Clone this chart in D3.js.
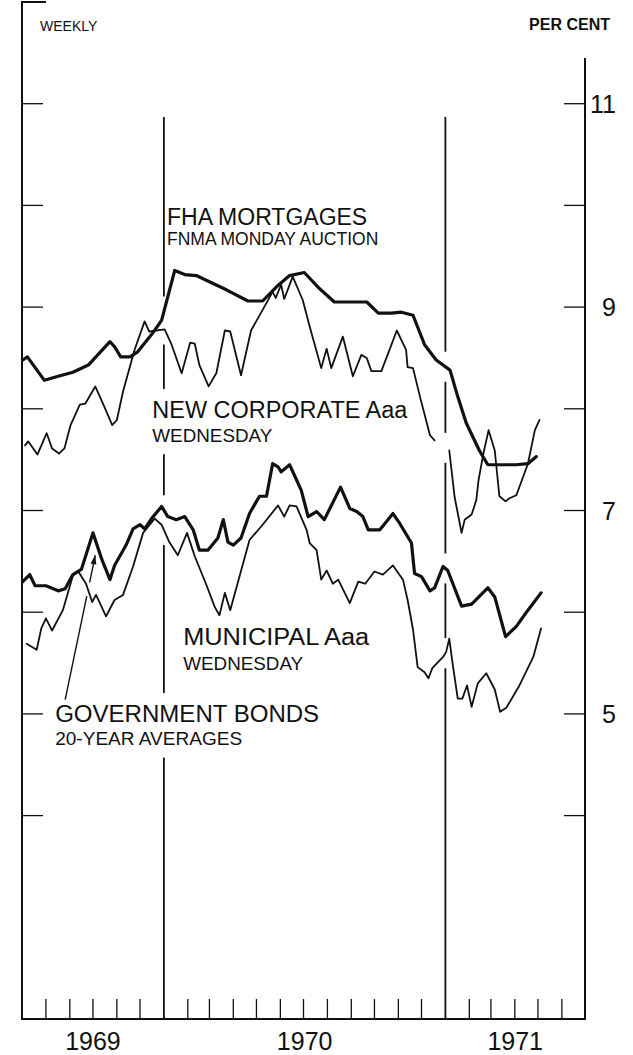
<!DOCTYPE html>
<html>
<head>
<meta charset="utf-8">
<script src="https://cdn.jsdelivr.net/npm/d3@7"></script>
<style>
  body { margin:0; background:#fff; }
  svg { display:block; }
  text { font-family:"Liberation Sans", Arial, sans-serif; fill:#111; }
</style>
</head>
<body>
<script>
// weekly yields, per cent
var fha = [["1969-07-02",8.48],["1969-07-08",8.51],["1969-07-30",8.28],["1969-08-17",8.32],["1969-09-05",8.36],
  ["1969-09-25",8.43],["1969-10-23",8.66],["1969-10-29",8.61],["1969-11-06",8.51],["1969-11-18",8.51],["1969-11-28",8.56],
  ["1969-12-16",8.73],["1969-12-29",8.87],["1970-01-06",9.10],["1970-01-15",9.36],["1970-01-28",9.32],["1970-02-12",9.31],
  ["1970-03-01",9.25],["1970-03-23",9.17],["1970-04-20",9.06],["1970-05-09",9.06],["1970-05-27",9.20],["1970-06-13",9.31],
  ["1970-07-02",9.34],["1970-07-22",9.18],["1970-08-10",9.05],["1970-09-21",9.05],["1970-10-06",8.94],["1970-10-23",8.94],
  ["1970-11-05",8.95],["1970-11-20",8.92],["1970-12-05",8.63],["1970-12-20",8.48],["1971-01-07",8.38],["1971-01-17",8.12],
  ["1971-01-28",7.86],["1971-02-14",7.59],["1971-02-25",7.45],["1971-03-13",7.45],["1971-04-03",7.45],["1971-04-18",7.46],
  ["1971-04-29",7.53]];

var corporate = [["1969-07-05",7.64],["1969-07-09",7.68],["1969-07-21",7.55],["1969-08-02",7.76],["1969-08-09",7.61],["1969-08-18",7.56],
  ["1969-08-25",7.61],["1969-09-02",7.84],["1969-09-14",8.04],["1969-09-21",8.05],["1969-10-04",8.22],["1969-10-14",8.05],
  ["1969-10-26",7.84],["1969-11-01",7.89],["1969-11-09",8.17],["1969-11-24",8.58],["1969-12-07",8.86],["1969-12-13",8.76],
  ["1969-12-22",8.77],["1970-01-02",8.78],["1970-01-11",8.63],["1970-01-24",8.35],["1970-02-04",8.65],["1970-02-10",8.64],
  ["1970-02-16",8.43],["1970-02-28",8.22],["1970-03-06",8.30],["1970-03-10",8.35],["1970-03-21",8.77],["1970-03-28",8.76],
  ["1970-04-11",8.33],["1970-04-24",8.77],["1970-05-11",9.00],["1970-05-22",9.15],["1970-05-26",9.09],["1970-06-02",9.22],
  ["1970-06-06",9.08],["1970-06-17",9.30],["1970-06-30",9.07],["1970-07-09",8.81],["1970-07-24",8.40],["1970-07-31",8.59],
  ["1970-08-06",8.40],["1970-08-21",8.71],["1970-09-03",8.32],["1970-09-14",8.53],["1970-09-21",8.50],["1970-09-27",8.37],
  ["1970-10-10",8.37],["1970-10-30",8.77],["1970-11-11",8.58],["1970-11-13",8.41],["1970-11-20",8.40],["1970-11-29",8.12],
  ["1970-12-12",7.74],["1970-12-18",7.69],["1970-12-27",null],["1971-01-06",7.59],["1971-01-13",7.13],["1971-01-22",6.78],
  ["1971-01-26",6.91],["1971-02-04",6.96],["1971-02-10",7.10],["1971-02-13",7.30],["1971-02-19",7.55],["1971-02-26",7.79],
  ["1971-03-06",7.59],["1971-03-12",7.14],["1971-03-20",7.09],["1971-03-25",7.12],["1971-04-03",7.15],["1971-04-18",7.46],
  ["1971-04-27",7.79],["1971-05-03",7.89]];

var government = [["1969-07-02",6.30],["1969-07-11",6.37],["1969-07-18",6.26],["1969-08-01",6.26],["1969-08-17",6.21],
  ["1969-08-26",6.23],["1969-09-05",6.37],["1969-09-16",6.42],["1969-10-01",6.78],["1969-10-12",6.53],["1969-10-23",6.32],
  ["1969-10-29",6.46],["1969-11-13",6.66],["1969-11-22",6.82],["1969-12-01",6.86],["1969-12-07",6.82],["1969-12-16",6.92],
  ["1969-12-29",7.04],["1970-01-06",6.94],["1970-01-17",6.91],["1970-01-28",6.94],["1970-02-08",6.81],["1970-02-16",6.61],
  ["1970-02-27",6.61],["1970-03-12",6.73],["1970-03-19",6.91],["1970-03-25",6.69],["1970-04-01",6.66],["1970-04-11",6.73],
  ["1970-04-22",6.97],["1970-05-01",7.09],["1970-05-05",7.14],["1970-05-14",7.14],["1970-05-22",7.46],["1970-05-29",7.43],
  ["1970-06-02",7.38],["1970-06-13",7.45],["1970-06-28",7.20],["1970-07-07",6.94],["1970-07-18",6.99],["1970-07-28",6.91],
  ["1970-08-18",7.23],["1970-08-30",7.02],["1970-09-08",6.99],["1970-09-16",6.94],["1970-09-23",6.81],["1970-10-08",6.81],
  ["1970-10-25",6.97],["1970-11-03",6.87],["1970-11-18",6.68],["1970-11-22",6.38],["1970-12-01",6.35],["1970-12-12",6.21],
  ["1970-12-18",6.24],["1970-12-29",6.45],["1971-01-04",6.41],["1971-01-22",6.06],["1971-02-04",6.08],["1971-02-25",6.24],
  ["1971-03-06",6.15],["1971-03-20",5.76],["1971-04-03",5.86],["1971-04-18",6.02],["1971-05-05",6.19]];

var municipal = [["1969-07-07",5.69],["1969-07-20",5.63],["1969-07-26",5.84],["1969-08-01",5.94],["1969-08-09",5.82],
  ["1969-08-23",6.02],["1969-09-05",6.36],["1969-09-12",6.40],["1969-09-22",6.28],["1969-09-30",6.10],["1969-10-05",6.17],
  ["1969-10-18",5.96],["1969-10-29",6.12],["1969-11-09",6.17],["1969-11-22",6.45],["1969-12-05",6.78],["1969-12-20",6.92],
  ["1969-12-29",6.86],["1970-01-08",6.69],["1970-01-19",6.56],["1970-01-31",6.78],["1970-02-10",6.55],["1970-02-25",6.27],
  ["1970-03-08",6.05],["1970-03-14",5.97],["1970-03-21",6.19],["1970-03-28",6.02],["1970-04-05",6.24],["1970-04-22",6.71],
  ["1970-05-09",6.86],["1970-05-29",7.05],["1970-06-06",6.94],["1970-06-13",7.05],["1970-06-22",7.04],["1970-07-05",6.81],
  ["1970-07-09",6.68],["1970-07-18",6.61],["1970-07-24",6.32],["1970-07-31",6.41],["1970-08-08",6.28],["1970-08-15",6.32],
  ["1970-08-30",6.09],["1970-09-10",6.30],["1970-09-19",6.28],["1970-10-01",6.40],["1970-10-12",6.37],["1970-10-25",6.46],
  ["1970-11-07",6.32],["1970-11-13",6.12],["1970-11-20",5.83],["1970-11-26",5.46],["1970-12-05",5.41],["1970-12-10",5.35],
  ["1970-12-15",5.45],["1970-12-29",5.56],["1971-01-02",5.61],["1971-01-06",5.74],["1971-01-11",5.46],["1971-01-17",5.15],
  ["1971-01-23",5.15],["1971-01-29",5.28],["1971-02-04",5.07],["1971-02-12",5.30],["1971-02-23",5.40],["1971-03-06",5.24],
  ["1971-03-13",5.02],["1971-03-21",5.06],["1971-04-07",5.28],["1971-04-25",5.56],["1971-05-05",5.84]];

var yTicks = [4, 5, 6, 7, 8, 9, 10, 11];
var yLabels = [11, 9, 7, 5];
var years = [1969, 1970, 1971];

var parse = d3.timeParse("%Y-%m-%d");
var svgW = 633, svgH = 1055;
var x = d3.scaleTime().domain([new Date(1969,6,1), new Date(1971,6,1)]).range([22,585]);
var y = d3.scaleLinear().domain([2,12]).range([1019,2]);
var x0 = x.range()[0], x1 = x.range()[1], yb = y(2), tk = 21;

var svg = d3.select("body").append("svg").attr("width", svgW).attr("height", svgH);

// frame
var frame = svg.append("g").attr("stroke","#111").attr("fill","none");
frame.append("path").attr("stroke-width",2)
  .attr("d","M"+(x0+24)+","+y(12)+"H"+x0+"V"+yb+"H"+x1+"V"+y(11.45));

// y ticks both sides
frame.selectAll(".lt").data(yTicks).enter().append("line")
  .attr("x1",x0).attr("x2",x0+tk).attr("y1",function(d){return y(d);}).attr("y2",function(d){return y(d);})
  .attr("stroke-width",1.3);
frame.selectAll(".rt").data(yTicks).enter().append("line")
  .attr("x1",x1-tk).attr("x2",x1).attr("y1",function(d){return y(d);}).attr("y2",function(d){return y(d);})
  .attr("stroke-width",1.3);

// month ticks
var months = d3.timeMonth.range(new Date(1969,7,1), new Date(1971,6,1)).filter(function(d){ return d.getMonth()!=0; });
frame.selectAll(".mt").data(months).enter().append("line")
  .attr("x1",function(d){return x(d);}).attr("x2",function(d){return x(d);})
  .attr("y1",yb).attr("y2",yb-20).attr("stroke-width",1.3);

// labels
svg.selectAll(".yl").data(yLabels).enter().append("text")
  .attr("x",616).attr("y",function(d){return y(d)+9;}).attr("text-anchor","end")
  .style("font-size","25px").text(function(d){return d;});
svg.selectAll(".xl").data(years).enter().append("text")
  .attr("x",function(d){ return (x(Math.max(new Date(d,0,1),x.domain()[0])) + x(Math.min(new Date(d+1,0,1),x.domain()[1])))/2; })
  .attr("y",1050).attr("text-anchor","middle").style("font-size","25px").text(function(d){return d;});

svg.append("text").attr("x",40).attr("y",31).style("font-size","14px").text("WEEKLY");
svg.append("text").attr("x",610).attr("y",30).attr("text-anchor","end").style("font-size","16px")
  .style("font-weight","bold").text("PER CENT");

var notes = [
  {t:"FHA MORTGAGES", d:"1970-01-05", v:9.81, s:23},
  {t:"FNMA MONDAY AUCTION", d:"1970-01-05", v:9.61, s:17.5},
  {t:"NEW CORPORATE Aaa", d:"1969-12-17", v:7.91, s:23, w:255},
  {t:"WEDNESDAY", d:"1969-12-17", v:7.67, s:17.5, w:120},
  {t:"MUNICIPAL Aaa", d:"1970-01-26", v:5.68, s:23, w:186},
  {t:"WEDNESDAY", d:"1970-01-26", v:5.43, s:17.5, w:120},
  {t:"GOVERNMENT BONDS", d:"1969-08-13", v:4.92, s:23, w:264},
  {t:"20-YEAR AVERAGES", d:"1969-08-13", v:4.69, s:18, w:187}
];
var noteText = svg.selectAll(".note").data(notes).enter().append("text")
  .attr("x",function(d){return x(parse(d.d));}).attr("y",function(d){return y(d.v);})
  .style("font-size",function(d){return d.s+"px";})
  .attr("textLength",function(d){return d.w ? d.w : null;})
  .attr("lengthAdjust","spacingAndGlyphs")
  .text(function(d){return d.t;});

// series
var series = [{d:fha, w:3.2},{d:corporate, w:1.8},{d:government, w:3.2},{d:municipal, w:1.8}];
var line = d3.line().defined(function(d){return d[1]!=null;})
  .x(function(d){return x(parse(d[0]));}).y(function(d){return y(d[1]);});

function valueAt(data, t){
  var pts = data.filter(function(d){return d[1]!=null;}).map(function(d){return [parse(d[0]),d[1]];});
  var i = d3.bisector(function(d){return d[0];}).left(pts, t);
  if(i<=0 || i>=pts.length) return null;
  var a = pts[i-1], b = pts[i], f = (t-a[0])/(b[0]-a[0]);
  return a[1] + f*(b[1]-a[1]);
}

// year dividers, broken where a series or a label crosses them
var dividers = [new Date(1970,0,1), new Date(1971,0,1)];
var yTop = y(10.87);
dividers.forEach(function(t){
  var px = x(t), gaps = [];
  series.forEach(function(s){
    var v = valueAt(s.d, t);
    if(v!=null) gaps.push([y(v)-15, y(v)+15]);
  });
  noteText.each(function(){
    var b = this.getBBox();
    if(b.x < px && b.x+b.width > px) gaps.push([b.y-8, b.y+b.height+8]);
  });
  gaps.sort(function(a,b){return a[0]-b[0];});
  var segs = [], cur = yTop;
  gaps.forEach(function(g){
    if(g[0] > cur) segs.push([cur, g[0]]);
    cur = Math.max(cur, g[1]);
  });
  if(cur < yb) segs.push([cur, yb]);
  frame.selectAll(null).data(segs).enter().append("line")
    .attr("x1",px).attr("x2",px).attr("y1",function(d){return d[0];}).attr("y2",function(d){return d[1];})
    .attr("stroke-width",1.8);
});

svg.append("g").selectAll("path").data(series).enter().append("path")
  .attr("d",function(s){return line(s.d);})
  .attr("fill","none").attr("stroke","#111").attr("stroke-linejoin","round").attr("stroke-linecap","round")
  .attr("stroke-width",function(s){return s.w;});

// pointer from the government bonds label, broken where it passes the municipal line
var pointer = [["1969-08-26",5.14],["1969-10-04",6.56]];
var p0 = [x(parse(pointer[0][0])), y(pointer[0][1])], p1 = [x(parse(pointer[1][0])), y(pointer[1][1])];
var len = Math.hypot(p1[0]-p0[0], p1[1]-p0[1]), cut = null, prev = null;
d3.range(0, 1.0001, 0.005).forEach(function(f){
  var px = p0[0]+f*(p1[0]-p0[0]), py = p0[1]+f*(p1[1]-p0[1]);
  var v = valueAt(municipal, x.invert(px));
  if(v==null) return;
  var diff = py - y(v);
  if(prev!=null && cut==null && (prev>0) != (diff>0)) cut = f;
  prev = diff;
});
var parts = cut==null ? [[0,1]] : [[0, cut-7/len], [cut+7/len, 1]];
svg.selectAll(".ptr").data(parts).enter().append("line")
  .attr("x1",function(d){return p0[0]+d[0]*(p1[0]-p0[0]);}).attr("y1",function(d){return p0[1]+d[0]*(p1[1]-p0[1]);})
  .attr("x2",function(d){return p0[0]+d[1]*(p1[0]-p0[0]);}).attr("y2",function(d){return p0[1]+d[1]*(p1[1]-p0[1]);})
  .attr("stroke","#111").attr("stroke-width",1.4);
var ang = Math.atan2(p1[1]-p0[1], p1[0]-p0[0]);
svg.append("path").attr("fill","#111")
  .attr("d","M0,0L-9,-3L-9,3Z")
  .attr("transform","translate("+p1[0]+","+p1[1]+") rotate("+(ang*180/Math.PI)+")");
</script>
</body>
</html>
